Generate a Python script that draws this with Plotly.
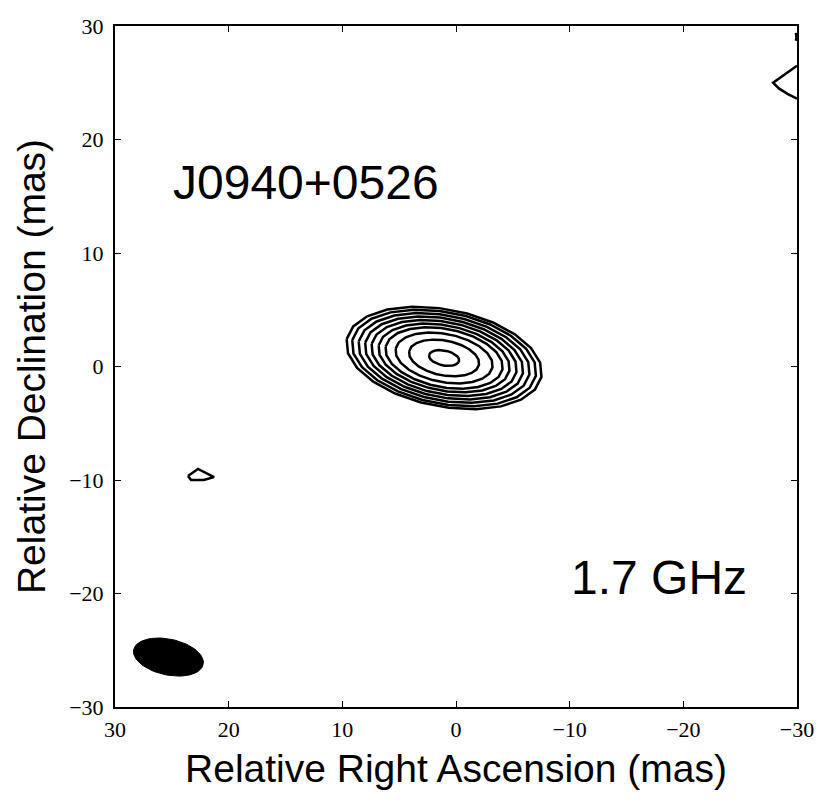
import numpy as np
import plotly.graph_objects as go

# main component contours, mas
src_x = 1.05
src_y = 0.75
ring_major = [1.34, 3.13, 4.34, 5.24, 5.86, 6.49, 7.07, 7.65, 8.23, 8.73]
ring_ratio = 0.49
ring_pa = 11.0

# restoring beam
beam_x = 25.3
beam_y = -25.6
beam_major = 3.13
beam_minor = 1.58
beam_pa = 12.0

# small noise contours
blob_x = [23.58, 22.70, 21.29, 22.17, 23.31, 23.58]
blob_y = [-9.65, -9.03, -9.74, -10.0, -10.0, -9.65]
edge_x = [-30.0, -29.2, -28.5, -27.9, -28.4, -29.2, -30.0]
edge_y = [26.5, 25.9, 25.4, 25.0, 24.5, 24.0, 23.6]
edge2_x = [-29.9, -29.95, -29.9]
edge2_y = [29.4, 29.0, 28.7]


def ellipse(xc, yc, a, b, pa, n=25):
    t = np.linspace(0, 2 * np.pi, n)
    th = np.radians(pa)
    u = a * np.cos(t)
    v = b * np.sin(t)
    return xc + u * np.cos(th) - v * np.sin(th), yc + u * np.sin(th) + v * np.cos(th)


fig = go.Figure()

line = dict(color='black', width=2.5)
for a in ring_major:
    ex, ey = ellipse(src_x, src_y, a, a * ring_ratio, ring_pa, n=23)
    fig.add_trace(go.Scatter(x=ex, y=ey, mode='lines', line=line, hoverinfo='skip'))

fig.add_trace(go.Scatter(x=blob_x, y=blob_y, mode='lines', line=line))
fig.add_trace(go.Scatter(x=edge_x, y=edge_y, mode='lines', line=line))
fig.add_trace(go.Scatter(x=edge2_x, y=edge2_y, mode='lines', line=line))

bx, by = ellipse(beam_x, beam_y, beam_major, beam_minor, beam_pa, n=80)
fig.add_trace(go.Scatter(x=bx, y=by, mode='lines', fill='toself', fillcolor='black',
                         line=dict(color='black', width=1)))

axis_common = dict(
    showgrid=False, zeroline=False, automargin=False,
    showline=True, linecolor='black', linewidth=2, mirror='ticks',
    ticks='inside', ticklen=6, tickwidth=1, tickcolor='black',
    tickfont=dict(family='Liberation Serif', size=22, color='black'),
)

fig.update_xaxes(range=[30, -30], tickvals=[30, 20, 10, 0, -10, -20, -30],
                 ticklabelstandoff=2,
                 title=dict(text='Relative Right Ascension (mas)', standoff=13,
                            font=dict(family='Liberation Sans', size=39, color='black')),
                 **axis_common)
fig.update_yaxes(range=[-30, 30], tickvals=[-30, -20, -10, 0, 10, 20, 30],
                 ticklabelstandoff=5,
                 title=dict(text='Relative Declination (mas)', standoff=12,
                            font=dict(family='Liberation Sans', size=39, color='black')),
                 **axis_common)

fig.add_annotation(x=0.082, y=0.77, xref='paper', yref='paper', xanchor='left', yanchor='middle',
                   text='J0940+0526', showarrow=False,
                   font=dict(family='Liberation Sans', size=48, color='black'))
fig.add_annotation(x=0.666, y=0.19, xref='paper', yref='paper', xanchor='left', yanchor='middle',
                   text='1.7 GHz', showarrow=False,
                   font=dict(family='Liberation Sans', size=48, color='black'))

fig.update_layout(
    width=831, height=802,
    margin=dict(l=107, r=42, t=18, b=103),
    showlegend=False,
    plot_bgcolor='white',
    paper_bgcolor='white',
)

fig.write_html("out.html")
